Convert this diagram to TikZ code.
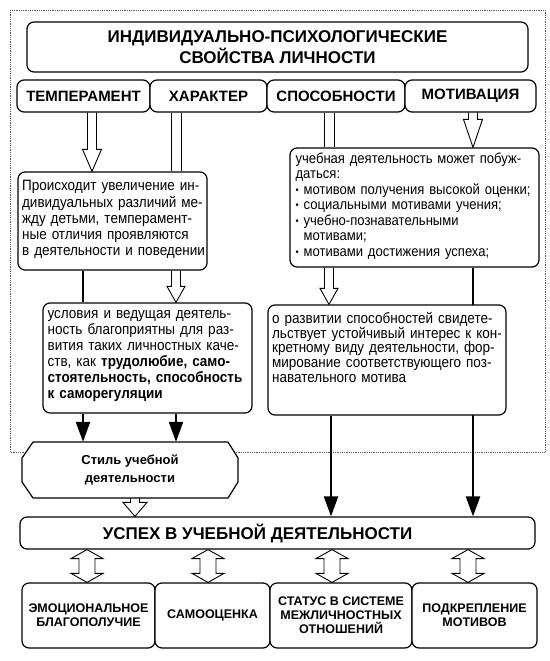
\documentclass[tikz,border=0pt]{standalone}
\usepackage{fontspec}
\setmainfont{Liberation Sans}
\newfontfamily\bodyfont[FakeStretch=0.9]{Liberation Sans}
\usetikzlibrary{calc,arrows.meta}
\pgfdeclarelayer{bg}
\pgfsetlayers{bg,main}
\newcommand{\jl}[2]{\makebox[#1][s]{#2}}
\newcommand{\bul}{\makebox[8pt][l]{\raisebox{1pt}{\fontsize{10}{10}\selectfont\textbullet}}}
% hollow single arrow: start point, end point, head length, head half width
\newcommand{\harr}[4]{\draw[hollow] let \p1=#1, \p2=#2 in (\x1-4.5pt,\y1) -- (\x1-4.5pt,\y2+#3) -- (\x1-#4,\y2+#3) -- (\x1,\y2) -- (\x1+#4,\y2+#3) -- (\x1+4.5pt,\y2+#3) -- (\x1+4.5pt,\y1);}
% hollow double arrow
\newcommand{\darr}[2]{\draw[hollow] let \p1=#1, \p2=#2 in (\x1,\y1) -- (\x1+16pt,\y1-9pt) -- (\x1+8pt,\y1-9pt) -- (\x1+8pt,\y2+9pt) -- (\x1+16pt,\y2+9pt) -- (\x1,\y2) -- (\x1-16pt,\y2+9pt) -- (\x1-8pt,\y2+9pt) -- (\x1-8pt,\y1-9pt) -- (\x1-16pt,\y1-9pt) -- cycle;}
% double line shaft
\newcommand{\dline}[2]{\draw[line width=0.9pt] let \p1=#1, \p2=#2 in (\x1-5pt,\y1) -- (\x1-5pt,\y2) (\x1+5pt,\y1) -- (\x1+5pt,\y2);}
\begin{document}
\begin{tikzpicture}[x=1pt,y=-1pt,
  box/.style={draw, line width=1.2pt, rounded corners=7pt, fill=white, inner sep=0pt},
  capt/.style={font=\bfseries\fontsize{15}{17}\selectfont},
  smallcap/.style={font=\bfseries\fontsize{12.5}{14}\selectfont, align=center},
  body/.style={align=left, inner sep=0pt, anchor=north west, text width=260pt},
  hollow/.style={draw, line width=0.9pt, fill=white, line join=miter},
  thk/.style={line width=2.2pt},
  thkarrow/.style={line width=2.2pt, -{Triangle[length=20pt,width=14pt]}},
  frame/.style={densely dotted, line width=0.8pt, black!65}
]
\useasboundingbox (0,0) rectangle (549,661);

% x positions of connectors
\coordinate (xt) at (92,0);
\coordinate (xh) at (176,0);
\coordinate (xa) at (83,0);
\coordinate (xs) at (329,0);
\coordinate (xr) at (331,0);
\coordinate (xm) at (473,0);
\coordinate (xst) at (135,0);
\coordinate (xb1) at (87,0);
\coordinate (xb2) at (208,0);
\coordinate (xb3) at (332,0);
\coordinate (xb4) at (468,0);

% title
\node[box, minimum width=501pt, minimum height=50pt, align=center,
      font=\bfseries\fontsize{17}{21}\selectfont] (title) at (277.5,47)
      {ИНДИВИДУАЛЬНО-ПСИХОЛОГИЧЕСКИЕ\\СВОЙСТВА ЛИЧНОСТИ};

% header row
\node[box, capt, minimum width=133pt, minimum height=32pt] (temp) at (83.5,96) {ТЕМПЕРАМЕНТ};
\node[box, capt, minimum width=117pt, minimum height=32pt] (har) at (208.5,96) {ХАРАКТЕР};
\node[box, capt, minimum width=138pt, minimum height=32pt] (spos) at (336,96) {СПОСОБНОСТИ};
\node[box, capt, minimum width=131pt, minimum height=32pt] (motiv) at (470.5,96) {МОТИВАЦИЯ};

% middle boxes
\node[box, minimum width=189pt, minimum height=98pt] (L1) at (112.5,221) {};
\node[body, font=\bodyfont\fontsize{15}{16.25}\selectfont] (L1t) at ([xshift=4.5pt,yshift=-9pt]L1.north west)
 {\jl{179pt}{Происходит увеличение ин-}\\
  \jl{179pt}{дивидуальных различий ме-}\\
  \jl{179pt}{жду детьми, темперамент-}\\
  \jl{179pt}{ные отличия проявляются}\\
  \jl{179pt}{в деятельности и поведении}};

\node[box, minimum width=209pt, minimum height=110pt] (L2) at (147.5,358) {};
\node[body, font=\bodyfont\fontsize{15}{16}\selectfont] (L2t) at ([xshift=5pt,yshift=-8pt]L2.north west)
 {\jl{199pt}{условия и ведущая деятель-}\\
  \jl{199pt}{ность благоприятны для раз-}\\
  \jl{199pt}{вития таких личностных каче-}\\
  \jl{199pt}{ств, как \textbf{трудолюбие, само-}}\\
  \jl{199pt}{\textbf{стоятельность, способность}}\\
  \textbf{к саморегуляции}};

\node[box, minimum width=249pt, minimum height=119pt] (R1) at (414.5,207.5) {};
\node[body, font=\bodyfont\fontsize{14.5}{15.5}\selectfont] (R1t) at ([xshift=6pt,yshift=-5pt]R1.north west)
 {\jl{236pt}{учебная деятельность может побуж-}\\
  даться:\\
  \bul мотивом получения высокой оценки;\\
  \bul социальными мотивами учения;\\
  \bul учебно-познавательными\\
  \hspace*{8pt}мотивами;\\
  \bul мотивами достижения успеха;};

\node[box, minimum width=238pt, minimum height=110pt] (R2) at (387,360) {};
\node[body, font=\bodyfont\fontsize{15}{14.6}\selectfont] (R2t) at ([xshift=4.5pt,yshift=-8pt]R2.north west)
 {\jl{229pt}{о развитии способностей свидете-}\\
  \jl{229pt}{льствует устойчивый интерес к кон-}\\
  \jl{229pt}{кретному виду деятельности, фор-}\\
  \jl{229pt}{мирование соответствующего поз-}\\
  навательного мотива};

% style box (chamfered)
\draw[line width=1.2pt, fill=white, line join=round]
  (33,442) -- (228,442) -- (238,458) -- (238,482) -- (228,498) -- (33,498) -- (22,482) -- (22,458) -- cycle;
\node[align=center, font=\bfseries\fontsize{13}{18}\selectfont, minimum width=216pt, minimum height=56pt, inner sep=0pt] (stil) at (130,470) {Стиль учебной\\деятельности};

% success
\node[box, minimum width=515pt, minimum height=32pt, font=\bfseries\fontsize{17}{18}\selectfont] (usp) at (277.5,533) {УСПЕХ В УЧЕБНОЙ ДЕЯТЕЛЬНОСТИ\hspace*{40pt}};

% bottom row
\node[box, smallcap, minimum width=133pt, minimum height=65pt] (b1) at (88.5,615.5) {ЭМОЦИОНАЛЬНОЕ\\БЛАГОПОЛУЧИЕ};
\node[box, smallcap, minimum width=115pt, minimum height=65pt] (b2) at (212.5,615.5) {САМООЦЕНКА};
\node[box, smallcap, minimum width=142pt, minimum height=65pt] (b3) at (341,615.5) {СТАТУС В СИСТЕМЕ\\МЕЖЛИЧНОСТНЫХ\\ОТНОШЕНИЙ};
\node[box, smallcap, minimum width=125pt, minimum height=65pt] (b4) at (474.5,615.5) {ПОДКРЕПЛЕНИЕ\\МОТИВОВ};

\begin{pgfonlayer}{bg}
  \draw[frame] (10,10) rectangle (545,452);
  % from header row
  \harr{(temp.south -| xt)}{(L1.north)}{22pt}{9.5pt}
  \dline{(har.south -| xh)}{(L1.north)}
  \dline{(spos.south -| xs)}{(R1.north)}
  \harr{(motiv.south -| xm)}{(R1.north)}{28pt}{9.5pt}
  % between middle boxes
  \draw[thk] (L1.south -| xa) -- (L2.north -| xa);
  \harr{(L1.south -| xh)}{(L2.north)}{16pt}{9pt}
  \harr{(R1.south -| xs)}{(R2.north)}{16pt}{9pt}
  \draw[thkarrow] (R1.south -| xm) -- (usp.north -| xm);
  % to style box and success
  \draw[thkarrow] (L2.south -| xa) -- (stil.north -| xa);
  \draw[thkarrow] (L2.south -| xh) -- (stil.north -| xh);
  \draw[thkarrow] (R2.south -| xr) -- (usp.north -| xr);
  \harr{(stil.south -| xst)}{(usp.north)}{14pt}{12pt}
  % bottom double arrows
  \darr{(usp.south -| xb1)}{(b1.north)}
  \darr{(usp.south -| xb2)}{(b2.north)}
  \darr{(usp.south -| xb3)}{(b3.north)}
  \darr{(usp.south -| xb4)}{(b4.north)}
\end{pgfonlayer}
\end{tikzpicture}
\end{document}
